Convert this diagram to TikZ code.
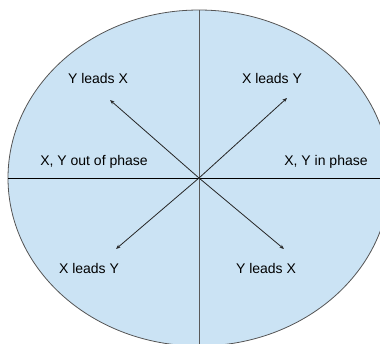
\documentclass[tikz,border=0pt]{standalone}
\usepackage{fontspec}
\setmainfont{Liberation Sans}
\usetikzlibrary{arrows.meta}
\definecolor{fillblue}{HTML}{CBE3F4}
\definecolor{edgegray}{HTML}{555555}
\tikzset{
  lbl/.style={font=\fontsize{14}{16}\selectfont, text=black, inner sep=0pt},
  arr/.style={-{Stealth[length=4.5pt,width=3.5pt]}, line width=0.8pt, draw=black!85},
  axis/.style={line width=1pt}
}
\begin{document}
\begin{tikzpicture}[x=1pt,y=-1pt]
\useasboundingbox (0,0) rectangle (380,343);
\clip (0,0) rectangle (380,343);
\filldraw[fill=fillblue, draw=edgegray, line width=0.8pt] (199,178) ellipse [x radius=191, y radius=168];
\coordinate (c) at (199,178);
\coordinate (l) at (8,178);
\coordinate (r) at (381,178);
\coordinate (t) at (199,10);
\coordinate (b) at (199,345);
\draw[axis, draw=black] (l) -- (r);
\draw[axis, draw=black!65] (t) -- (b);
\coordinate (ul) at (110,100);
\coordinate (ur) at (287,98);
\coordinate (ll) at (116,249);
\coordinate (lr) at (284,249);
\draw[arr] (c) -- (ul);
\draw[arr] (c) -- (ur);
\draw[arr] (c) -- (ll);
\draw[arr] (c) -- (lr);
\node[lbl] (t1) at (98,78) {Y leads X};
\node[lbl] (t2) at (272,78) {X leads Y};
\node[lbl] (t3) at (94,162) {X, Y out of phase};
\node[lbl] (t4) at (326,162) {X, Y in phase};
\node[lbl] (t5) at (89,268) {X leads Y};
\node[lbl] (t6) at (266,268) {Y leads X};
\end{tikzpicture}
\end{document}
